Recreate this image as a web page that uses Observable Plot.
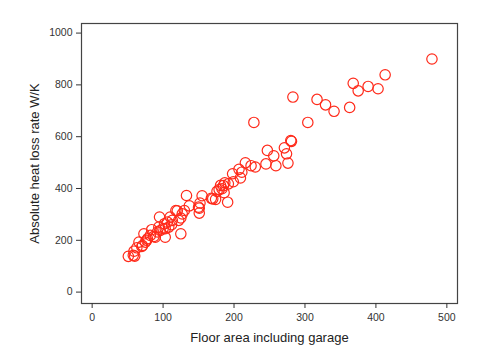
<!DOCTYPE html>
<html>
<head>
<meta charset="utf-8">
<script src="https://cdn.jsdelivr.net/npm/d3@7"></script>
<script src="https://cdn.jsdelivr.net/npm/@observablehq/plot@0.6"></script>
<style>
  body { margin: 0; background: #fff; }
  #chart svg { display: block; }
</style>
</head>
<body>
<div id="chart"></div>
<script>
const floorArea = [479, 413, 368, 375, 389, 403, 363, 341, 329, 317, 283, 304, 228, 281, 280, 271, 274, 276, 259, 256, 247, 245, 230, 224, 216, 211, 207, 209, 198, 199, 192, 187, 185, 183, 186, 191, 179, 176, 174, 168, 155, 152, 151, 151, 133, 137, 130, 127, 125, 120, 118, 125, 113, 110, 108, 106, 102, 103, 100, 95, 94, 92, 89, 84, 82, 78, 73, 75, 71, 66, 63, 59, 60, 51, 58, 70, 77, 87, 96, 103, 112, 122, 150, 181, 170];
const heatLoss = [900, 839, 806, 777, 794, 785, 713, 698, 723, 744, 753, 655, 655, 582, 585, 557, 534, 498, 488, 526, 547, 495, 483, 488, 499, 463, 474, 441, 457, 426, 418, 422, 411, 399, 384, 347, 396, 389, 358, 362, 372, 344, 324, 305, 373, 333, 315, 302, 286, 314, 315, 225, 277, 290, 251, 270, 264, 212, 245, 290, 251, 232, 212, 241, 219, 206, 225, 193, 180, 193, 171, 158, 139, 138, 142, 176, 200, 215, 238, 245, 260, 277, 328, 412, 360];
const xTicks = [0, 100, 200, 300, 400, 500];
const yTicks = [0, 200, 400, 600, 800, 1000];
const xLabel = "Floor area including garage";
const yLabel = "Absolute heat loss rate W/K";

const data = floorArea.map((x, i) => ({x, y: heatLoss[i]}));

const chart = Plot.plot({
  width: 498,
  height: 361,
  marginLeft: 81,
  marginRight: 41,
  marginTop: 23,
  marginBottom: 58,
  style: {fontFamily: "Liberation Sans, Arial, sans-serif", fontSize: "10.5px", color: "#333"},
  x: {domain: [-15, 515]},
  y: {domain: [-44, 1037]},
  marks: [
    Plot.frame({stroke: "#444", strokeWidth: 1.2}),
    Plot.axisX({ticks: xTicks, tickFormat: d => String(d), tickSize: 5, tickPadding: 5, label: null, fontSize: 10.5}),
    Plot.axisY({ticks: yTicks, tickFormat: d => String(d), tickSize: 5, tickPadding: 4, label: null, fontSize: 10.5}),
    Plot.text([xLabel], {frameAnchor: "bottom", textAnchor: "middle", dy: 38, fontSize: 13, fill: "#222", lineAnchor: "bottom"}),
    Plot.text([yLabel], {frameAnchor: "left", textAnchor: "middle", lineAnchor: "middle", dx: -47, rotate: -90, fontSize: 13, fill: "#222"}),
    Plot.dot(data, {x: "x", y: "y", r: 5.2, stroke: "#ff2a1a", strokeWidth: 1.2, fill: "none"})
  ]
});
document.getElementById("chart").appendChild(chart);
</script>
</body>
</html>
